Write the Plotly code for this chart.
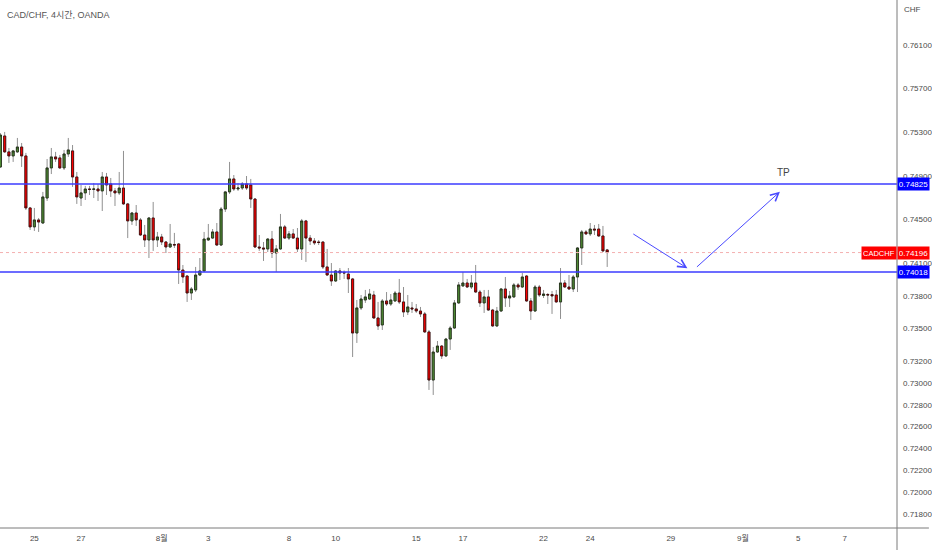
# ----------------------------------------------------------------------------------------------------------------------
#  IMPORT
# ----------------------------------------------------------------------------------------------------------------------
import numpy as np
import plotly.graph_objects as go

# ----------------------------------------------------------------------------------------------------------------------
#  DATA  (CAD/CHF 4h candles, OANDA)
# ----------------------------------------------------------------------------------------------------------------------
bar_index = list(range(-8, 136))

opens = [
    0.74981, 0.75265, 0.75119, 0.75082, 0.75119, 0.75164, 0.75082, 0.74605, 0.74431, 0.74495,
    0.74467, 0.74696, 0.74972, 0.75073, 0.75064, 0.74972, 0.75100, 0.75128, 0.74889, 0.74696,
    0.74743, 0.74779, 0.74775, 0.74779, 0.74761, 0.74889, 0.74825, 0.74761, 0.74743, 0.74788,
    0.74642, 0.74486, 0.74559, 0.74495, 0.74357, 0.74311, 0.74513, 0.74311, 0.74339, 0.74293,
    0.74247, 0.74270, 0.74275, 0.74036, 0.73981, 0.73825, 0.73853, 0.73990, 0.74027, 0.74311,
    0.74329, 0.74385, 0.74265, 0.74595, 0.74752, 0.74871, 0.74779, 0.74788, 0.74825, 0.74816,
    0.74687, 0.74247, 0.74238, 0.74229, 0.74320, 0.74192, 0.74229, 0.74431, 0.74329, 0.74367,
    0.74329, 0.74229, 0.74486, 0.74329, 0.74302, 0.74293, 0.74293, 0.74064, 0.73990, 0.73935,
    0.74027, 0.74014, 0.73999, 0.73954, 0.73458, 0.73688, 0.73761, 0.73770, 0.73807, 0.73596,
    0.73532, 0.73752, 0.73724, 0.73752, 0.73825, 0.73743, 0.73651, 0.73688, 0.73679, 0.73660,
    0.73633, 0.73468, 0.73027, 0.73284, 0.73339, 0.73248, 0.73403, 0.73504, 0.73734, 0.73890,
    0.73917, 0.73880, 0.73917, 0.73834, 0.73734, 0.73789, 0.73669, 0.73523, 0.73660, 0.73862,
    0.73779, 0.73789, 0.73899, 0.73880, 0.73981, 0.73752, 0.73660, 0.73880, 0.73802, 0.73811,
    0.73811, 0.73807, 0.73743, 0.73917, 0.73880, 0.73862, 0.73972, 0.74238, 0.74385, 0.74367,
    0.74412, 0.74412, 0.74348, 0.74220,
]
highs = [
    0.75292, 0.75302, 0.75155, 0.75137, 0.75247, 0.75201, 0.75110, 0.74614, 0.74605, 0.74513,
    0.74752, 0.75054, 0.75155, 0.75119, 0.75091, 0.75137, 0.75247, 0.75182, 0.74935, 0.74816,
    0.74807, 0.74807, 0.74834, 0.74825, 0.74935, 0.74926, 0.74880, 0.74788, 0.74935, 0.75128,
    0.74651, 0.74568, 0.74632, 0.74513, 0.74449, 0.74522, 0.74660, 0.74385, 0.74367, 0.74302,
    0.74458, 0.74376, 0.74284, 0.74082, 0.73990, 0.73880, 0.74064, 0.74146, 0.74385, 0.74458,
    0.74412, 0.74467, 0.74614, 0.74761, 0.75027, 0.74907, 0.74834, 0.74843, 0.74898, 0.74871,
    0.74696, 0.74357, 0.74293, 0.74329, 0.74394, 0.74265, 0.74550, 0.74449, 0.74394, 0.74412,
    0.74421, 0.74504, 0.74495, 0.74357, 0.74329, 0.74311, 0.74296, 0.74229, 0.74100, 0.74036,
    0.74054, 0.74032, 0.74054, 0.73963, 0.73761, 0.73807, 0.73853, 0.73862, 0.73844, 0.73743,
    0.73770, 0.73834, 0.73816, 0.73844, 0.73954, 0.73880, 0.73807, 0.73743, 0.73724, 0.73697,
    0.73651, 0.73486, 0.73330, 0.73385, 0.73348, 0.73413, 0.73523, 0.73761, 0.73926, 0.74018,
    0.73954, 0.73990, 0.74082, 0.73853, 0.73853, 0.73853, 0.73679, 0.73697, 0.73871, 0.73972,
    0.73844, 0.73917, 0.73917, 0.74009, 0.73990, 0.73779, 0.73899, 0.73899, 0.73853, 0.73825,
    0.73844, 0.73853, 0.74054, 0.73944, 0.73990, 0.73990, 0.74247, 0.74403, 0.74403, 0.74467,
    0.74449, 0.74458, 0.74440, 0.74229,
]
lows = [
    0.74972, 0.75110, 0.75018, 0.75027, 0.75110, 0.74981, 0.74586, 0.74403, 0.74394, 0.74385,
    0.74458, 0.74669, 0.74916, 0.75027, 0.74963, 0.74953, 0.75073, 0.74798, 0.74642, 0.74623,
    0.74678, 0.74724, 0.74696, 0.74669, 0.74577, 0.74724, 0.74706, 0.74623, 0.74724, 0.74632,
    0.74329, 0.74449, 0.74440, 0.74348, 0.74247, 0.74146, 0.74211, 0.74247, 0.74265, 0.74192,
    0.74238, 0.74238, 0.73908, 0.73917, 0.73743, 0.73761, 0.73834, 0.73981, 0.74018, 0.74302,
    0.74320, 0.74256, 0.74256, 0.74568, 0.74733, 0.74761, 0.74761, 0.74770, 0.74770, 0.74605,
    0.74238, 0.74211, 0.74119, 0.74201, 0.74146, 0.74018, 0.74220, 0.74320, 0.74311, 0.74320,
    0.74201, 0.74128, 0.74110, 0.74265, 0.74265, 0.74265, 0.74045, 0.73981, 0.73890, 0.73926,
    0.73944, 0.73954, 0.73825, 0.73238, 0.73367, 0.73669, 0.73734, 0.73761, 0.73587, 0.73486,
    0.73486, 0.73706, 0.73706, 0.73743, 0.73724, 0.73605, 0.73623, 0.73642, 0.73642, 0.73605,
    0.73458, 0.72936, 0.72890, 0.73275, 0.73220, 0.73238, 0.73303, 0.73495, 0.73724, 0.73880,
    0.73871, 0.73862, 0.73825, 0.73697, 0.73642, 0.73660, 0.73513, 0.73513, 0.73651, 0.73697,
    0.73697, 0.73779, 0.73853, 0.73871, 0.73743, 0.73578, 0.73651, 0.73789, 0.73779, 0.73724,
    0.73633, 0.73734, 0.73587, 0.73871, 0.73853, 0.73834, 0.73834, 0.74082, 0.74357, 0.74348,
    0.74357, 0.74339, 0.74201, 0.74064,
]
closes = [
    0.75274, 0.75119, 0.75082, 0.75128, 0.75164, 0.75082, 0.74605, 0.74431, 0.74495, 0.74476,
    0.74706, 0.74972, 0.75073, 0.75054, 0.74972, 0.75100, 0.75137, 0.74889, 0.74706, 0.74743,
    0.74779, 0.74775, 0.74779, 0.74761, 0.74889, 0.74816, 0.74761, 0.74743, 0.74788, 0.74642,
    0.74486, 0.74559, 0.74495, 0.74357, 0.74311, 0.74513, 0.74311, 0.74339, 0.74293, 0.74247,
    0.74275, 0.74265, 0.74036, 0.73972, 0.73825, 0.73862, 0.73990, 0.74027, 0.74320, 0.74329,
    0.74385, 0.74265, 0.74595, 0.74752, 0.74871, 0.74779, 0.74788, 0.74825, 0.74788, 0.74687,
    0.74247, 0.74238, 0.74229, 0.74320, 0.74192, 0.74229, 0.74431, 0.74329, 0.74367, 0.74329,
    0.74229, 0.74486, 0.74329, 0.74302, 0.74284, 0.74288, 0.74064, 0.73990, 0.73935, 0.74027,
    0.74009, 0.74009, 0.73954, 0.73458, 0.73688, 0.73770, 0.73789, 0.73816, 0.73596, 0.73523,
    0.73752, 0.73724, 0.73761, 0.73825, 0.73743, 0.73651, 0.73697, 0.73679, 0.73660, 0.73633,
    0.73468, 0.73027, 0.73284, 0.73339, 0.73248, 0.73403, 0.73504, 0.73734, 0.73899, 0.73917,
    0.73880, 0.73917, 0.73834, 0.73734, 0.73789, 0.73669, 0.73523, 0.73660, 0.73862, 0.73779,
    0.73798, 0.73899, 0.73880, 0.73972, 0.73752, 0.73660, 0.73880, 0.73807, 0.73816, 0.73807,
    0.73798, 0.73743, 0.73917, 0.73880, 0.73862, 0.73972, 0.74238, 0.74385, 0.74367, 0.74412,
    0.74403, 0.74348, 0.74211, 0.74196,
]

day_tick_bars   = [0, 11, 30, 41, 60, 71, 90, 101, 120, 131, 150, 167, 180, 191]
day_tick_labels = ["25", "27", "8월", "3", "8", "10", "15", "17", "22", "24", "29", "9월", "5", "7"]

price_ticks = [0.761, 0.757, 0.753, 0.749, 0.745, 0.741, 0.738, 0.735,
               0.732, 0.730, 0.728, 0.726, 0.724, 0.722, 0.720, 0.718]

resistance_level = 0.74825
support_level    = 0.74018
last_price       = 0.74196

# drawn projection: down to support, then up to TP
arrow_bars   = [140.8, 153.9, 155.8, 175.7]
arrow_prices = [0.74375, 0.74052, 0.74052, 0.74754]
tp_bar       = 176.6
tp_price     = 0.74930

# ----------------------------------------------------------------------------------------------------------------------
#  PLOT
# ----------------------------------------------------------------------------------------------------------------------
axis_font  = "Liberation Sans Narrow, Liberation Sans, Noto Sans CJK KR"
text_color = "#4a4a4a"
line_blue  = "#3b3bff"

o = np.array(opens)
c = np.array(closes)

# wicks (grey) first, bodies with dark outline on top
wicks = go.Candlestick(x=bar_index, open=opens, high=highs, low=lows, close=closes,
                       increasing=dict(line=dict(color="#909090", width=1), fillcolor="#909090"),
                       decreasing=dict(line=dict(color="#909090", width=1), fillcolor="#909090"),
                       showlegend=False, hoverinfo="skip")
bodies = go.Candlestick(x=bar_index, open=opens, high=np.maximum(o, c), low=np.minimum(o, c), close=closes,
                        increasing=dict(line=dict(color="#1e2a14", width=0.8), fillcolor="#4f8c35"),
                        decreasing=dict(line=dict(color="#3a0a0a", width=0.8), fillcolor="#ff0000"),
                        showlegend=False)

fig = go.Figure(data=[wicks, bodies])

# horizontal levels
fig.add_shape(type="line", xref="paper", x0=0, x1=1, yref="y", y0=resistance_level, y1=resistance_level,
              line=dict(color=line_blue, width=1.5))
fig.add_shape(type="line", xref="paper", x0=0, x1=1, yref="y", y0=support_level, y1=support_level,
              line=dict(color=line_blue, width=1.5))
fig.add_shape(type="line", xref="paper", x0=0, x1=871 / 900, yref="y", y0=last_price, y1=last_price,
              line=dict(color="#f4b0b0", width=1, dash="dot"))

# axis frame lines (price scale and time scale)
fig.add_shape(type="line", xref="paper", yref="paper", x0=1, x1=1, y0=-22 / 528, y1=1,
              line=dict(color="#7a7a7a", width=1))
fig.add_shape(type="line", xref="paper", yref="paper", x0=0, x1=932 / 900, y0=0, y1=0,
              line=dict(color="#7a7a7a", width=1))

annotations = []

# arrows
for k in range(0, len(arrow_bars), 2):
    annotations.append(dict(x=arrow_bars[k + 1], y=arrow_prices[k + 1], ax=arrow_bars[k], ay=arrow_prices[k],
                            xref="x", yref="y", axref="x", ayref="y", text="", showarrow=True,
                            arrowhead=5, arrowsize=1.6, arrowwidth=1, arrowcolor="#4a4aff"))
annotations.append(dict(x=tp_bar, y=tp_price, xref="x", yref="y", text="TP", showarrow=False,
                        font=dict(family="Liberation Sans", size=10, color="#444444")))

# price scale labels
def price_label(value, bg, xanchor="left", text=None, width=29, size=8):
    label = dict(x=1, xref="paper", y=value, yref="y", xanchor=xanchor, yanchor="middle",
                 text=text if text is not None else "%.5f" % value, showarrow=False,
                 bgcolor=bg, height=10, borderpad=1,
                 font=dict(family=axis_font, size=size, color="white"))
    if width:
        label["width"] = width
    return label

annotations.append(price_label(resistance_level, "#0000ff"))
annotations.append(price_label(support_level, "#0000ff"))
annotations.append(price_label(last_price, "#ff0000"))
annotations.append(price_label(last_price, "#ff0000", xanchor="right", text="CADCHF", width=None, size=7.5))

annotations.append(dict(x=1, xref="paper", xanchor="left", xshift=5, y=1 - 10 / 528, yref="paper",
                        yanchor="middle", text="CHF", showarrow=False,
                        font=dict(family=axis_font, size=8, color=text_color)))
annotations.append(dict(x=5 / 900, xref="paper", xanchor="left", y=1 - 15 / 528, yref="paper",
                        yanchor="middle", text="CAD/CHF, 4시간, OANDA", showarrow=False,
                        font=dict(family=axis_font, size=9, color="#555555")))

fig.update_layout(
    width          = 932,
    height         = 550,
    margin         = dict(l=0, r=32, t=0, b=22),
    paper_bgcolor  = "white",
    plot_bgcolor   = "white",
    annotations    = annotations,
    font           = dict(family=axis_font, size=8, color=text_color),
    xaxis          = dict(range=[-8.1, 203.3], rangeslider=dict(visible=False), showgrid=False,
                          zeroline=False, showline=False, ticks="", ticklabelstandoff=4,
                          tickmode="array", tickvals=day_tick_bars, ticktext=day_tick_labels,
                          tickfont=dict(family=axis_font, size=8, color=text_color)),
    yaxis          = dict(range=[0.7167, 0.76512], side="right", showgrid=False, zeroline=False,
                          showline=False, ticks="", tickmode="array", tickvals=price_ticks,
                          ticktext=["%.5f" % v for v in price_ticks], ticklabelstandoff=5,
                          tickfont=dict(family=axis_font, size=8, color=text_color)),
)

# the page is photographed at exactly 932x550, so drop the default body margin
fig.write_html("out.html", config=dict(displayModeBar=False),
               post_script="document.body.style.margin='0';document.body.style.overflow='hidden';")
